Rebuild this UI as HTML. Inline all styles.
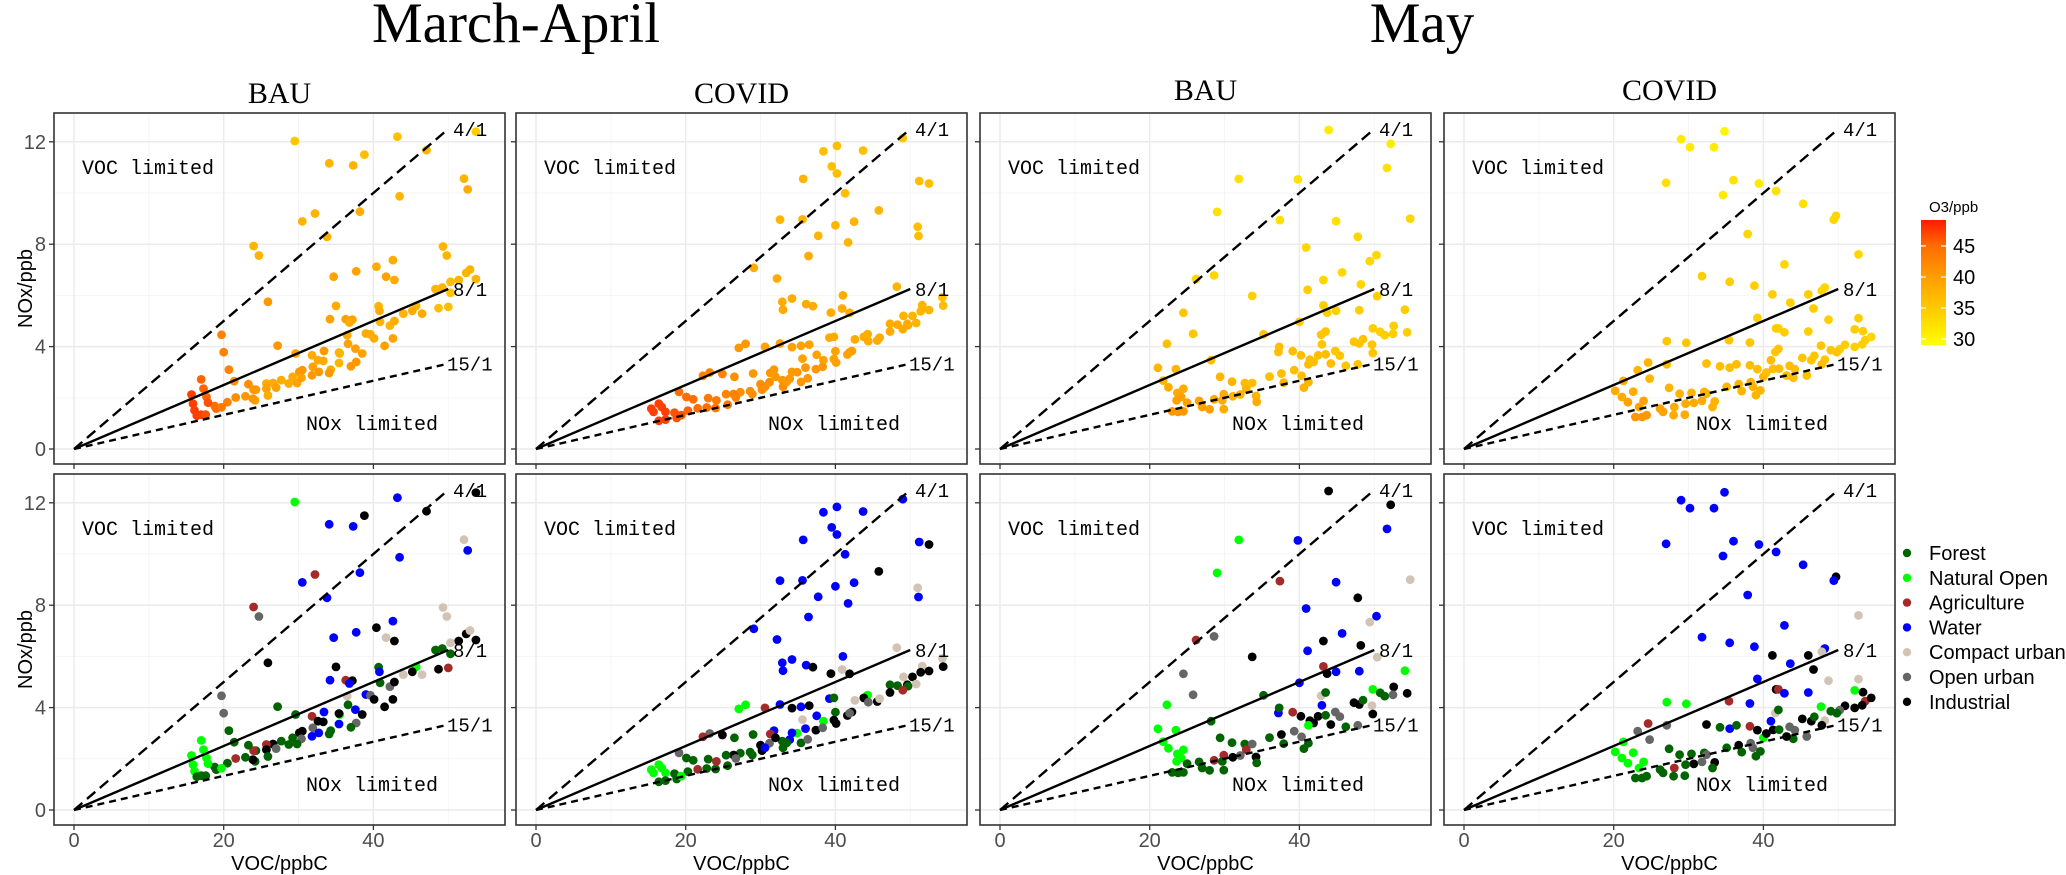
<!DOCTYPE html>
<html><head><meta charset="utf-8">
<style>
html,body{margin:0;padding:0;background:#fff;}
svg{display:block;}
text{font-family:"Liberation Sans",sans-serif;}
.serif{font-family:"Liberation Serif",serif;}
.mono{font-family:"Liberation Mono",monospace;}
</style></head>
<body>
<svg id="chart" width="2066" height="875" viewBox="0 0 2066 875" xmlns="http://www.w3.org/2000/svg">
<defs>
<linearGradient id="o3grad" x1="0" y1="1" x2="0" y2="0">
<stop offset="0" stop-color="#ffff00"/>
<stop offset="0.3" stop-color="#ffc800"/>
<stop offset="0.55" stop-color="#ff9c00"/>
<stop offset="0.8" stop-color="#ff6a00"/>
<stop offset="1" stop-color="#ff1a00"/>
</linearGradient>
</defs>
<text class="serif" x="516" y="42" font-size="57" text-anchor="middle">March-April</text>
<text class="serif" x="1422" y="42" font-size="57" text-anchor="middle">May</text>
<g id="panels"></g>
<g>
<text x="1929" y="212" font-size="15">O3/ppb</text>
<rect x="1921" y="220" width="25" height="125" fill="url(#o3grad)"/>
<g id="cbticks"></g>
</g>
<g id="legend"></g>
</svg>
<script>
// ---- data: [VOC ppbC, NOx ppb, land use, O3 ppb] ----
const panelTitles = ["BAU","COVID","BAU","COVID"];
const xTicks = [0,20,40];
const yTicks = [0,4,8,12];
const cbTicks = [30,35,40,45];
const landTypes = ["Forest","Natural Open","Agriculture","Water","Compact urban","Open urban","Industrial"];
const landCodes = ["F","N","A","W","C","O","I"];
const landColors = ["#006400","#00ff00","#a52a2a","#0000ff","#d2c4b4","#666666","#000000"];
const ratioSlopes = [4,8,15];
const ratioLabels = ["4/1","8/1","15/1"];

const marBau = [[29.5,12.03,'N',35],[43.2,12.2,'W',36],[38.8,11.5,'I',36],[47.1,11.67,'I',37],[53.7,12.4,'I',34],[34.1,11.16,'W',37],[37.3,11.08,'W',37],[52.1,10.56,'C',37],[52.6,10.14,'W',38],[43.5,9.87,'W',37],[32.2,9.2,'A',37],[30.5,8.89,'W',37],[38.2,9.27,'W',38],[33.8,8.29,'W',38],[24.0,7.93,'A',37],[24.7,7.56,'O',37],[49.3,7.91,'C',37],[49.8,7.56,'C',37],[42.6,7.38,'W',38],[40.4,7.12,'I',38],[37.7,6.94,'W',39],[34.7,6.73,'W',39],[41.7,6.73,'C',39],[42.8,6.6,'I',38],[52.4,6.88,'I',37],[52.9,7.01,'C',37],[51.4,6.6,'I',37],[53.7,6.64,'I',37],[50.3,6.53,'C',36],[48.3,6.25,'F',37],[49.2,6.31,'F',37],[50.3,6.1,'F',35],[25.9,5.75,'I',40],[35.0,5.59,'I',38],[40.7,5.58,'F',37],[40.8,5.4,'W',38],[45.7,5.59,'N',37],[45.2,5.4,'I',38],[44.0,5.29,'C',37],[46.5,5.29,'C',38],[48.7,5.5,'I',36],[50.0,5.55,'A',36],[34.2,5.07,'W',39],[36.3,5.07,'A',39],[37.2,5.05,'I',39],[36.8,4.94,'W',38],[40.9,4.97,'F',37],[42.2,4.82,'O',37],[42.8,5.0,'I',38],[36.5,4.45,'C',38],[39.0,4.51,'W',38],[39.6,4.48,'O',38],[40.1,4.32,'I',38],[42.6,4.32,'I',39],[41.5,4.03,'I',39],[19.7,4.46,'O',42],[20.0,3.78,'O',42],[27.2,4.04,'F',40],[29.6,3.73,'F',39],[36.6,4.11,'F',39],[35.5,3.73,'N',37],[35.4,3.77,'I',37],[33.4,3.83,'W',40],[37.6,3.92,'W',39],[38.5,3.73,'I',39],[37.7,3.4,'O',40],[37.0,3.23,'F',40],[31.8,3.66,'A',38],[32.6,3.47,'I',38],[33.3,3.44,'I',38],[35.4,3.36,'W',37],[34.3,3.1,'F',38],[34.1,2.97,'F',40],[31.9,3.21,'O',39],[31.8,2.88,'W',40],[32.7,3.01,'W',40],[30.1,3.01,'I',40],[30.5,3.08,'I',40],[30.4,2.78,'O',39],[29.2,2.82,'F',38],[29.8,2.58,'F',39],[28.7,2.56,'F',38],[27.7,2.69,'F',38],[26.6,2.58,'I',38],[25.7,2.56,'A',38],[27.0,2.4,'O',39],[25.7,2.36,'I',39],[25.9,2.09,'F',38],[24.3,2.32,'F',40],[24.2,1.9,'F',39],[24.0,2.32,'A',40],[23.9,1.97,'I',40],[23.3,2.53,'F',41],[22.9,2.06,'F',40],[21.4,2.65,'F',41],[21.6,2.01,'A',41],[20.7,3.1,'F',42],[20.5,1.83,'F',42],[19.0,1.58,'F',44],[18.8,1.68,'F',44],[19.7,1.63,'N',43],[17.0,2.72,'N',45],[17.3,2.36,'N',45],[17.7,2.03,'N',45],[17.9,1.81,'N',46],[15.7,2.13,'N',47],[15.9,1.77,'N',47],[16.1,1.51,'N',47],[16.4,1.3,'F',47],[17.0,1.34,'F',47],[17.6,1.34,'F',46]];

const marCovid = [[49.0,12.14,'W',35],[40.2,11.84,'W',36],[38.4,11.63,'W',36],[43.7,11.66,'W',36],[39.5,11.04,'W',36],[40.2,10.76,'W',36],[35.7,10.55,'W',37],[51.2,10.47,'W',36],[52.5,10.37,'I',36],[41.3,9.99,'W',36],[45.8,9.32,'I',37],[32.6,8.96,'W',37],[35.6,8.97,'W',37],[40.0,8.74,'W',37],[42.5,8.88,'W',37],[51.0,8.68,'C',36],[51.1,8.32,'W',36],[37.7,8.33,'W',37],[41.7,8.07,'W',37],[36.4,7.54,'W',38],[29.1,7.08,'W',38],[32.2,6.66,'W',38],[34.2,5.88,'W',38],[32.9,5.75,'W',38],[33.0,5.44,'W',38],[36.1,5.66,'W',38],[37.0,5.58,'I',38],[41.0,6.0,'W',38],[40.9,5.49,'C',38],[39.4,5.33,'I',38],[41.9,5.32,'I',38],[48.2,6.34,'C',37],[54.3,5.92,'C',36],[51.6,5.62,'C',37],[54.4,5.6,'I',36],[51.4,5.38,'I',37],[52.5,5.43,'I',37],[50.3,5.2,'I',37],[49.1,5.2,'C',37],[50.8,4.92,'C',37],[47.3,4.89,'F',38],[48.3,4.86,'F',38],[49.6,4.89,'I',38],[49.7,4.84,'F',38],[49.0,4.68,'A',38],[47.3,4.59,'I',38],[44.3,4.49,'N',38],[43.8,4.38,'I',38],[42.6,4.28,'C',38],[44.4,4.21,'O',38],[45.6,4.24,'I',38],[45.9,4.35,'C',38],[27.1,3.95,'N',40],[28.0,4.11,'N',40],[30.6,3.99,'A',39],[32.6,4.12,'W',39],[34.2,3.98,'I',39],[35.4,4.03,'W',39],[36.5,4.08,'I',39],[39.2,4.35,'W',38],[39.8,4.38,'F',38],[40.0,3.82,'F',39],[42.2,3.83,'I',39],[41.6,3.69,'I',39],[41.9,3.78,'O',39],[35.6,3.53,'C',39],[37.5,3.68,'W',39],[38.4,3.47,'N',39],[39.8,3.51,'I',39],[40.1,3.38,'I',39],[37.4,3.12,'I',40],[38.3,3.21,'O',40],[36.0,3.18,'W',40],[34.9,3.0,'N',40],[34.2,3.01,'W',40],[33.9,2.75,'W',40],[35.4,2.62,'F',40],[36.3,2.76,'O',40],[32.9,2.69,'F',40],[33.0,2.43,'F',41],[33.5,2.62,'F',40],[31.8,3.1,'W',40],[31.3,2.97,'A',40],[31.2,2.61,'O',41],[32.0,2.82,'I',40],[30.0,2.53,'I',41],[30.2,2.32,'I',41],[30.6,2.43,'W',41],[28.9,2.15,'F',41],[28.6,2.26,'F',41],[29.0,2.95,'F',40],[27.3,2.22,'F',41],[26.5,2.82,'F',41],[24.9,2.93,'I',42],[23.2,2.99,'O',42],[22.3,2.86,'A',42],[26.4,2.15,'I',42],[26.7,2.01,'O',42],[25.4,2.14,'F',42],[25.6,1.73,'F',43],[24.0,1.6,'F',43],[24.1,1.9,'A',43],[23.0,1.99,'F',43],[22.8,1.62,'F',44],[21.6,1.59,'A',44],[20.3,1.5,'F',45],[21.0,1.94,'F',44],[20.1,2.03,'F',44],[19.1,2.23,'O',44],[18.5,1.42,'F',46],[18.8,1.21,'F',46],[19.4,1.32,'N',46],[15.4,1.58,'N',47],[15.7,1.45,'N',47],[16.4,1.77,'N',47],[16.8,1.64,'N',47],[17.3,1.45,'N',47],[16.4,1.1,'F',47],[17.3,1.15,'F',47]];

const mayBau = [[43.9,12.46,'I',31],[52.2,11.92,'I',31],[51.7,10.98,'W',32],[31.9,10.55,'N',32],[39.8,10.53,'W',32],[29.0,9.26,'N',32],[37.4,8.94,'A',32],[44.9,8.9,'W',32],[54.8,9.0,'C',33],[47.8,8.29,'I',33],[40.9,7.87,'W',33],[50.3,7.57,'W',33],[49.4,7.34,'C',33],[45.7,6.9,'W',33],[43.2,6.6,'I',33],[48.2,6.43,'I',33],[26.2,6.64,'A',33],[28.6,6.78,'O',33],[33.7,5.98,'I',34],[41.1,6.22,'W',34],[50.4,5.97,'C',34],[43.2,5.61,'A',34],[43.7,5.33,'I',34],[44.9,5.4,'W',34],[48.0,5.42,'W',34],[54.1,5.44,'N',34],[40.0,4.97,'W',34],[24.5,5.32,'O',35],[25.8,4.5,'O',35],[35.2,4.48,'F',35],[52.6,4.81,'I',34],[49.8,4.71,'N',34],[50.8,4.58,'F',34],[51.4,4.45,'F',34],[52.5,4.5,'O',34],[54.4,4.56,'I',34],[42.9,4.46,'C',35],[43.5,4.59,'F',35],[22.3,4.11,'N',36],[47.3,4.19,'I',35],[48.0,4.12,'I',35],[48.5,4.29,'F',35],[49.7,4.08,'C',35],[49.8,3.75,'I',35],[37.2,3.79,'W',36],[39.1,3.82,'A',36],[37.3,3.99,'F',36],[43.0,4.09,'W',35],[40.2,3.66,'I',36],[42.5,3.66,'I',36],[43.5,3.7,'F',36],[44.8,3.83,'O',35],[45.4,3.65,'O',35],[41.4,3.49,'I',36],[41.9,3.4,'I',36],[41.2,3.31,'N',36],[44.2,3.34,'I',36],[46.2,3.25,'F',35],[47.8,3.31,'O',35],[28.2,3.47,'F',36],[21.1,3.17,'N',37],[23.5,3.12,'N',37],[21.8,2.67,'N',37],[22.5,2.41,'N',38],[23.7,2.19,'N',38],[24.5,2.35,'N',38],[23.6,1.9,'N',39],[24.2,2.03,'N',39],[29.4,2.82,'F',37],[31.0,2.63,'F',37],[32.7,2.58,'F',36],[33.7,2.58,'O',36],[36.0,2.83,'F',36],[37.6,2.95,'I',36],[39.3,3.08,'O',36],[40.3,2.86,'O',36],[37.9,2.59,'F',37],[41.2,2.61,'F',37],[40.6,2.4,'F',37],[34.2,2.07,'I',37],[34.3,1.84,'F',38],[31.1,2.06,'I',37],[32.1,2.13,'O',37],[32.9,2.36,'A',37],[29.9,2.14,'A',38],[29.7,1.9,'F',38],[28.6,1.94,'A',38],[26.6,1.88,'F',39],[27.0,1.64,'F',39],[28.0,1.55,'F',39],[29.9,1.56,'F',38],[25.0,1.81,'F',39],[23.0,1.47,'F',40],[23.8,1.45,'F',40],[24.5,1.47,'F',40]];

const mayCovid = [[34.8,12.41,'W',30],[29.0,12.1,'W',31],[30.2,11.79,'W',31],[33.4,11.79,'W',31],[27.0,10.4,'W',32],[36.0,10.5,'W',32],[39.4,10.37,'W',31],[34.6,9.92,'W',31],[41.7,10.08,'W',32],[45.3,9.58,'W',32],[49.7,9.11,'I',33],[49.4,8.96,'W',33],[37.9,8.4,'W',33],[52.7,7.6,'C',33],[42.8,7.21,'W',33],[31.8,6.75,'W',34],[35.5,6.53,'W',34],[38.8,6.38,'W',34],[48.2,6.31,'W',33],[47.8,6.18,'C',33],[41.2,6.04,'I',34],[46.0,6.04,'I',34],[43.6,5.72,'W',34],[46.7,5.49,'I',34],[48.7,5.05,'C',34],[52.7,5.11,'C',34],[39.2,5.12,'W',34],[41.7,4.71,'I',34],[42.0,4.71,'A',34],[42.8,4.56,'W',34],[46.0,4.59,'W',34],[52.2,4.67,'N',34],[53.3,4.6,'I',34],[53.6,4.25,'A',34],[54.4,4.38,'I',33],[53.2,4.09,'I',34],[52.2,3.99,'I',34],[50.9,4.07,'I',34],[50.2,3.9,'O',34],[49.0,3.86,'F',35],[49.8,3.78,'F',35],[47.7,4.04,'N',35],[27.1,4.21,'N',35],[29.7,4.15,'N',35],[35.4,4.25,'A',35],[38.2,4.16,'W',35],[41.6,3.79,'C',35],[42.0,3.91,'F',35],[41.0,3.47,'W',36],[45.2,3.56,'I',35],[46.4,3.47,'I',35],[46.8,3.64,'F',35],[48.2,3.49,'C',35],[47.8,3.31,'I',36],[45.8,2.87,'O',36],[44.0,2.78,'F',36],[43.1,2.87,'I',36],[43.5,3.25,'O',36],[44.2,3.12,'O',36],[40.0,2.82,'N',37],[39.2,3.12,'I',36],[40.4,2.99,'I',36],[41.3,3.13,'I',36],[42.1,3.14,'F',36],[24.6,3.38,'A',37],[23.2,3.08,'O',37],[27.1,3.31,'O',36],[24.8,2.75,'O',37],[32.4,3.34,'I',36],[34.2,3.23,'F',36],[35.5,3.18,'W',36],[36.4,3.31,'F',36],[38.2,3.27,'A',36],[21.3,2.66,'N',38],[20.2,2.27,'N',38],[21.1,2.03,'N',38],[21.9,1.83,'N',39],[22.6,2.24,'N',38],[24.0,1.88,'N',39],[23.4,1.64,'N',39],[27.4,2.39,'F',37],[28.8,2.16,'F',37],[30.4,2.19,'F',37],[32.1,2.23,'F',37],[32.4,2.16,'O',37],[33.5,1.86,'I',37],[33.2,1.64,'F',37],[35.1,2.43,'F',37],[36.7,2.53,'I',37],[37.1,2.26,'F',37],[38.3,2.61,'O',37],[38.6,2.43,'O',37],[39.6,2.29,'F',37],[39.0,2.1,'F',37],[30.7,1.8,'I',38],[31.8,1.88,'O',38],[29.6,1.77,'F',38],[28.1,1.64,'A',38],[29.5,1.34,'F',38],[28.0,1.32,'F',38],[26.6,1.45,'F',39],[26.2,1.58,'F',39],[22.9,1.25,'F',40],[23.8,1.25,'F',40],[24.4,1.32,'F',40]];

const panelData = [marBau, marCovid, mayBau, mayCovid];

// ---- layout ----
const NS = "http://www.w3.org/2000/svg";
const panelLefts = [54,516,980,1444];
const rowTops = [113,474];
const PW = 451, PH = 351;
const X0 = 20, XS = 7.485, Y0 = 336, YS = 25.6;
function sx(left, v){ return left + X0 + v*XS; }
function sy(top, v){ return top + Y0 - v*YS; }
function mk(tag, attrs, parent){
  const e = document.createElementNS(NS, tag);
  for (const k in attrs) e.setAttribute(k, attrs[k]);
  parent.appendChild(e);
  return e;
}
function o3Color(v){
  const stops = [[29,[255,255,0]],[33,[255,214,0]],[36,[255,190,0]],[40,[255,152,0]],[45,[255,100,0]],[49,[255,26,0]]];
  if (v <= stops[0][0]) return "rgb(255,255,0)";
  for (let i=1;i<stops.length;i++){
    if (v <= stops[i][0]){
      const t=(v-stops[i-1][0])/(stops[i][0]-stops[i-1][0]);
      const a=stops[i-1][1], b=stops[i][1];
      return "rgb("+a.map((c,j)=>Math.round(c+(b[j]-c)*t)).join(",")+")";
    }
  }
  return "rgb(255,26,0)";
}
function landColor(code){ return landColors[landCodes.indexOf(code)]; }

const root = document.getElementById("panels");
for (let row=0; row<2; row++){
  const top = rowTops[row];
  for (let p=0; p<4; p++){
    const left = panelLefts[p];
    const g = mk("g", {}, root);
    
    
    mk("rect", {x:left, y:top, width:PW, height:PH, fill:"#fff"}, g);
    // minor grid
    [10,30,50].forEach(v=>{ mk("line",{x1:sx(left,v),x2:sx(left,v),y1:top,y2:top+PH,stroke:"#f3f3f3","stroke-width":0.8},g); });
    [2,6,10].forEach(v=>{ mk("line",{x1:left,x2:left+PW,y1:sy(top,v),y2:sy(top,v),stroke:"#f3f3f3","stroke-width":0.8},g); });
    xTicks.forEach(v=>{ mk("line",{x1:sx(left,v),x2:sx(left,v),y1:top,y2:top+PH,stroke:"#ebebeb","stroke-width":1.5},g); });
    yTicks.forEach(v=>{ mk("line",{x1:left,x2:left+PW,y1:sy(top,v),y2:sy(top,v),stroke:"#ebebeb","stroke-width":1.5},g); });
    // points
    const data = panelData[p];
    data.forEach(d=>{
      const c = mk("circle",{cx:sx(left,d[0]).toFixed(1),cy:sy(top,d[1]).toFixed(1),r:4.4,fill: row===0 ? o3Color(d[3]) : landColor(d[2])},g);
      
      
    });
    // ratio lines
    ratioSlopes.forEach((s,i)=>{
      const attrs = {x1:sx(left,0),y1:sy(top,0),x2:sx(left,50),y2:sy(top,50/s),stroke:"#000","stroke-width":2.4};
      if (i===0) attrs["stroke-dasharray"]="11,6";
      if (i===2) attrs["stroke-dasharray"]="7,5";
      const l = mk("line", attrs, g);
      
      
      const tx = (i===2) ? left+393 : left+399;
      const t = mk("text",{x:tx,y:sy(top,50/s)+7,"font-size":19,class:"mono"},g);
      t.textContent = ratioLabels[i];
      
      
    });
    const v1 = mk("text",{x:left+28,y:top+61,"font-size":20,class:"mono"},g);
    v1.textContent = "VOC limited";
    
    
    const v2 = mk("text",{x:left+252,y:top+317,"font-size":20,class:"mono"},g);
    v2.textContent = "NOx limited";
    
    
    // border
    mk("rect",{x:left,y:top,width:PW,height:PH,fill:"none",stroke:"#333","stroke-width":1.6},g);
    // ticks
    yTicks.forEach(v=>{ mk("line",{x1:left-5,x2:left,y1:sy(top,v),y2:sy(top,v),stroke:"#333","stroke-width":1.3},g); });
    xTicks.forEach(v=>{ mk("line",{x1:sx(left,v),x2:sx(left,v),y1:top+PH,y2:top+PH+5,stroke:"#333","stroke-width":1.3},g); });
    if (p===0){
      yTicks.forEach(v=>{
        const t = mk("text",{x:left-8,y:sy(top,v)+7,"font-size":20,"text-anchor":"end",fill:"#4d4d4d"},g);
        t.textContent = String(v);
        
        
      });
      const yt = mk("text",{x:0,y:0,"font-size":20,"text-anchor":"middle",transform:"translate(32,"+(top+PH/2)+") rotate(-90)"},g);
      yt.textContent = "NOx/ppb";
      
      
    }
    if (row===0){
      const pt = mk("text",{x:left+PW/2,y:(p>=2?100:103),"font-size":30,"text-anchor":"middle",class:"serif"},g);
      pt.textContent = panelTitles[p];
      
      
    } else {
      xTicks.forEach(v=>{
        const t = mk("text",{x:sx(left,v),y:847,"font-size":20,"text-anchor":"middle",fill:"#4d4d4d"},g);
        t.textContent = String(v);
        
        
      });
      const xt = mk("text",{x:left+PW/2,y:870,"font-size":20,"text-anchor":"middle"},g);
      xt.textContent = "VOC/ppbC";
      
      
    }
  }
}
// colorbar ticks
const cb = document.getElementById("cbticks");
function cby(v){ return 339 - (v-30)*6.2; }
cbTicks.forEach(v=>{
  mk("line",{x1:1921,x2:1926,y1:cby(v),y2:cby(v),stroke:"#fff","stroke-width":1.2},cb);
  mk("line",{x1:1941,x2:1946,y1:cby(v),y2:cby(v),stroke:"#fff","stroke-width":1.2},cb);
  const t = mk("text",{x:1953,y:cby(v)+7,"font-size":20},cb);
  t.textContent = String(v);
  
  
});
// legend
const lg = document.getElementById("legend");
landTypes.forEach((name,i)=>{
  const y = 553 + i*24.8;
  const c = mk("circle",{cx:1907,cy:y,r:4.2,fill:landColors[i]},lg);
  
  
  const t = mk("text",{x:1929,y:y+7,"font-size":20},lg);
  t.textContent = name;
  
  
});
</script>
</body></html>
